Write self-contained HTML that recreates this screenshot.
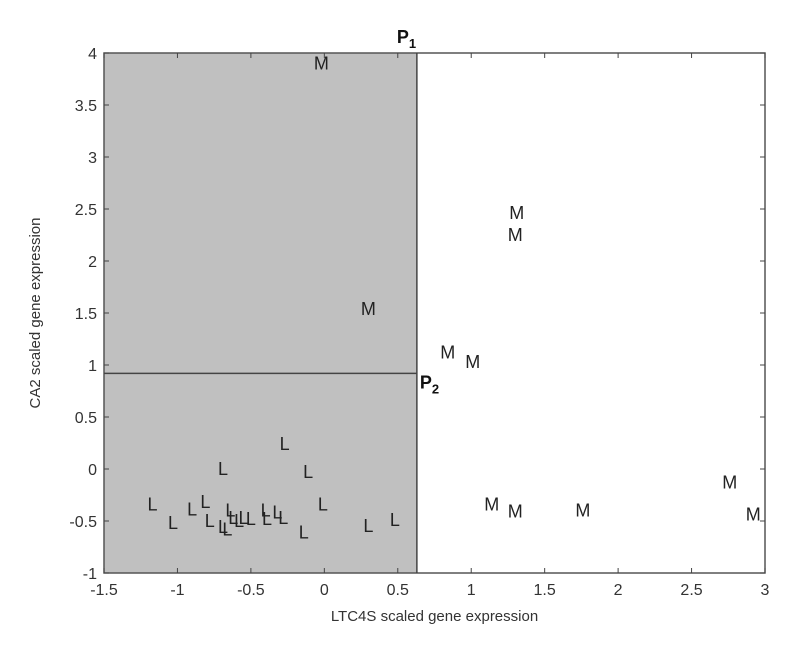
<!DOCTYPE html>
<html><head><meta charset="utf-8"><style>
html,body{margin:0;padding:0;background:#fff;}
svg{display:block;font-family:"Liberation Sans",sans-serif;}
</style></head><body>
<svg id="chart" width="800" height="646" viewBox="0 0 800 646">
<g id="g"></g>
</svg>
<script>
const xTicks=[-1.5,-1,-0.5,0,0.5,1,1.5,2,2.5,3];
const yTicks=[-1,-0.5,0,0.5,1,1.5,2,2.5,3,3.5,4];
const lX=[-1.17,-1.03,-0.90,-0.81,-0.78,-0.69,-0.69,-0.64,-0.66,-0.62,-0.58,-0.55,-0.50,-0.40,-0.39,-0.32,-0.28,-0.27,-0.11,-0.14,-0.01,0.30,0.48];
const lY=[-0.33,-0.51,-0.38,-0.31,-0.49,0.01,-0.55,-0.39,-0.57,-0.46,-0.49,-0.46,-0.47,-0.39,-0.47,-0.41,-0.46,0.25,-0.02,-0.60,-0.33,-0.54,-0.48];
const mX=[-0.02,1.31,1.30,0.30,0.84,1.01,1.14,1.30,1.76,2.76,2.92];
const mY=[3.91,2.47,2.26,1.55,1.13,1.04,-0.33,-0.40,-0.39,-0.12,-0.43];
const p1=0.63, p2=0.92;
const X0=104,X1=765,Y0=573,Y1=53;
const sx=v=>X0+(v+1.5)/4.5*(X1-X0);
const sy=v=>Y0-(v+1)/5*(Y0-Y1);
const NS='http://www.w3.org/2000/svg';
const g=document.getElementById('g');
function mk(t,a,txt){const e=document.createElementNS(NS,t);for(const k in a)e.setAttribute(k,a[k]);if(txt!==undefined)e.textContent=txt;g.appendChild(e);return e;}
let e;
e=mk('rect',{x:X0,y:Y1,width:sx(p1)-X0,height:Y0-Y1,fill:'#c0c0c0'});


e=mk('rect',{x:X0,y:Y1,width:X1-X0,height:Y0-Y1,fill:'none',stroke:'#555','stroke-width':1.5});


xTicks.forEach(t=>{
 mk('line',{x1:sx(t),x2:sx(t),y1:Y0,y2:Y0-5,stroke:'#444'});
 mk('line',{x1:sx(t),x2:sx(t),y1:Y1,y2:Y1+5,stroke:'#444'});
 e=mk('text',{x:sx(t),y:Y0+22,'text-anchor':'middle','font-size':16,fill:'#333'},String(t));
 
 
});
yTicks.forEach(t=>{
 mk('line',{x1:X0,x2:X0+5,y1:sy(t),y2:sy(t),stroke:'#444'});
 mk('line',{x1:X1,x2:X1-5,y1:sy(t),y2:sy(t),stroke:'#444'});
 e=mk('text',{x:X0-7,y:sy(t)+6,'text-anchor':'end','font-size':16,fill:'#333'},String(t));
 
 
});
e=mk('line',{x1:sx(p1),x2:sx(p1),y1:Y1,y2:Y0,stroke:'#444','stroke-width':1.5});


e=mk('line',{x1:X0,x2:sx(p1),y1:sy(p2),y2:sy(p2),stroke:'#444','stroke-width':1.5});


e=mk('text',{x:sx(p1)-20,y:Y1-10,'font-size':18,'font-weight':'bold',fill:'#111'});
e.innerHTML='P<tspan font-size="13" dy="5">1</tspan>';


e=mk('text',{x:sx(p1)+3,y:sy(p2)+15,'font-size':18,'font-weight':'bold',fill:'#111'});
e.innerHTML='P<tspan font-size="13" dy="5">2</tspan>';


lX.forEach((v,i)=>{
 e=mk('text',{x:sx(v),y:sy(lY[i])+7,'text-anchor':'middle','font-size':18,fill:'#222'},'L');
 
 
});
mX.forEach((v,i)=>{
 e=mk('text',{x:sx(v),y:sy(mY[i])+7,'text-anchor':'middle','font-size':18,fill:'#222'},'M');
 
 
});
e=mk('text',{x:(X0+X1)/2,y:621,'text-anchor':'middle','font-size':15,fill:'#333'},'LTC4S scaled gene expression');


e=mk('text',{x:0,y:0,'text-anchor':'middle','font-size':15,fill:'#333',transform:'translate(40,'+((Y0+Y1)/2)+') rotate(-90)'},'CA2 scaled gene expression');


</script>
</body></html>
